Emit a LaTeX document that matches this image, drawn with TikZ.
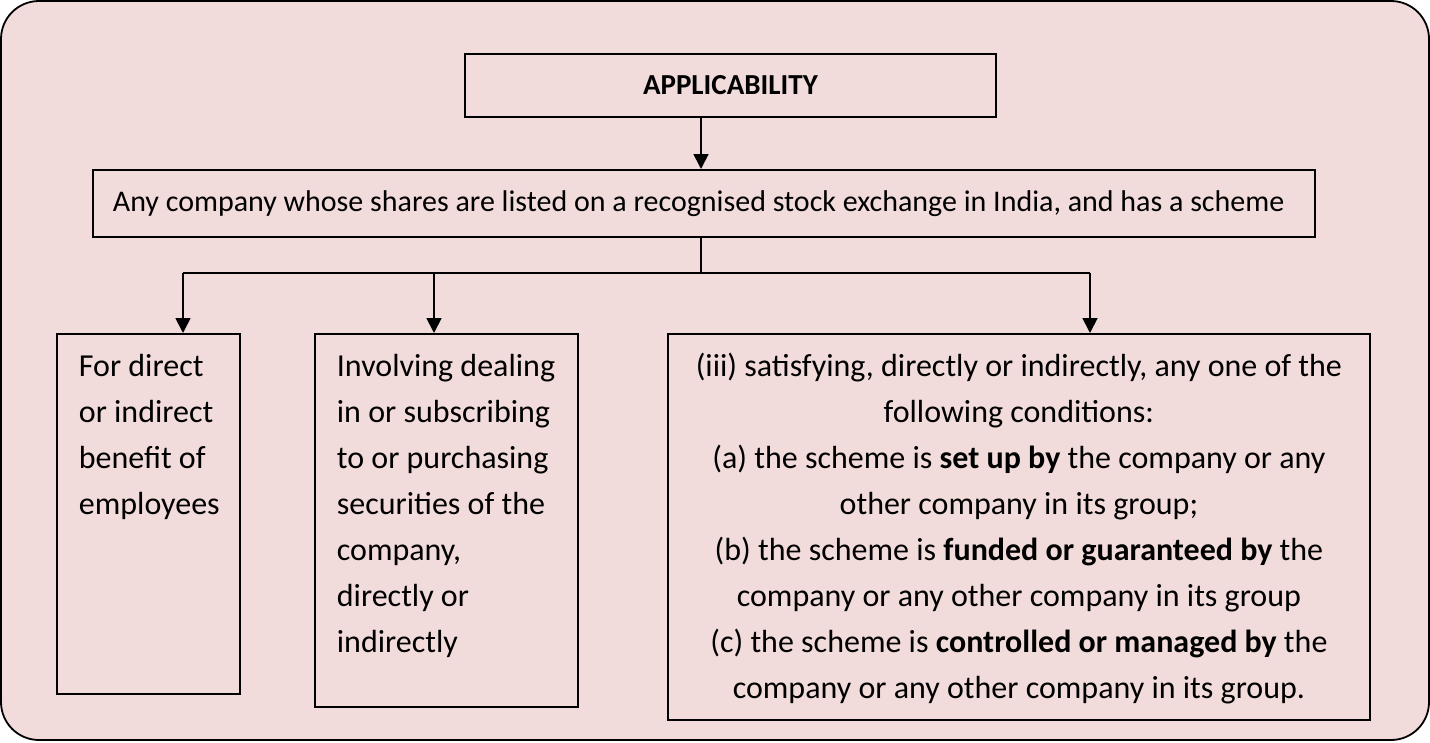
\documentclass[tikz,border=0pt]{standalone}
\usepackage{fontspec}
\setmainfont{Carlito}
\usepackage{xcolor}
\usetikzlibrary{arrows.meta,positioning,calc}

\definecolor{panelpink}{HTML}{F2DCDB}
% top-aligned text inside a box of fixed size
\newcommand{\leaftext}[3]{\parbox[c][#2][t]{#1}{\vspace*{10pt}\strut #3}}

\begin{document}
\begin{tikzpicture}[x=1pt, y=-1pt, font={\fontsize{32}{46}\selectfont},
    box/.style={draw, line width=1.8pt, inner sep=0pt, anchor=north west},
    line/.style={line width=1.8pt},
    arr/.style={line width=1.8pt, -{Triangle[length=15pt,width=15pt]}}]
        \useasboundingbox (0,0) rectangle (1430,742);
        \draw[line, fill=panelpink, rounded corners=38pt] (1,1) rectangle (1429,740);
        % heading and the company box
        \node[box, minimum width=531pt, minimum height=63pt,
              font={\fontsize{29}{46}\selectfont\bfseries}] (apply) at (464,53) {APPLICABILITY};
        \node[box, minimum width=1222pt, minimum height=67pt, text width=1182pt,
              align=flush left, font={\fontsize{30}{46}\selectfont}] (listed) at (92,169)
            {Any company whose shares are listed on a recognised stock exchange in India, and has a scheme};
        % the three conditions
        \node[box, inner xsep=22pt] (benefit) at (56,333)
            {\leaftext{139pt}{360pt}{\raggedright For direct\\or indirect\\benefit of\\employees}};
        \node[box, inner xsep=22pt] (dealing) at (314,333)
            {\leaftext{219pt}{373pt}{\raggedright Involving dealing\\in or subscribing\\to or purchasing\\securities of the\\company,\\directly or\\indirectly}};
        \node[box, inner xsep=10pt] (group) at (667,333)
            {\leaftext{682pt}{386pt}{\centering (iii) satisfying, directly or indirectly, any one of the\\
              following conditions:\\
              (a) the scheme is \textbf{set up by} the company or any\\
              other company in its group;\\
              (b) the scheme is \textbf{funded or guaranteed by} the\\
              company or any other company in its group\\
              (c) the scheme is \textbf{controlled or managed by} the\\
              company or any other company in its group.}};
        % connectors
        \coordinate (split) at (701,273);
        \coordinate (jA) at (183,273);
        \coordinate (jB) at (434,273);
        \coordinate (jC) at (1090,273);
        \draw[arr] (apply.south -| split) -- (listed.north -| split);
        \draw[line] (listed.south -| split) -- (split);
        \draw[line] (jA) -- (jC);
        \draw[arr] (jA) -- (jA |- benefit.north);
        \draw[arr] (jB) -- (jB |- dealing.north);
        \draw[arr] (jC) -- (jC |- group.north);
    \end{tikzpicture}
\end{document}
